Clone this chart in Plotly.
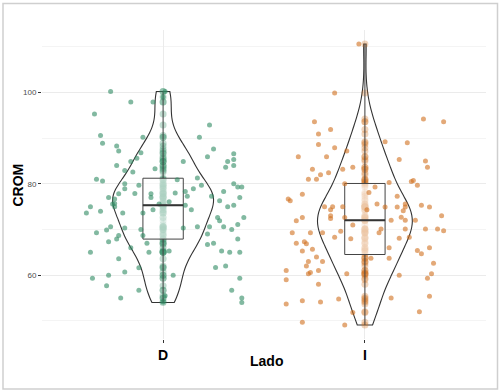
import numpy as np
import plotly.graph_objects as go

# ---------------- data ----------------
categories = ["D", "I"]

D_values = [100.2, 97.9, 97.9, 95.3, 90.6, 88.9, 88.3, 87.2, 90.2, 86.8,
            85.6, 84.9, 84.0, 82.9, 82.6, 83.3, 81.0, 80.6, 80.0, 78.9,
            79.7, 77.8, 77.8,
            92.9, 90.2, 87.6, 85.9, 84.9, 86.6, 85.3, 84.9, 84.0, 83.6,
            81.3, 80.9, 79.7, 78.9, 78.3, 78.0, 78.3, 80.0, 79.3, 79.3,
            77.0, 76.7, 75.7, 75.6, 75.0, 77.9, 77.0, 75.0, 73.6, 74.0,
            73.6, 73.6, 74.3, 69.3, 69.9, 70.6, 70.3, 70.0, 68.7, 68.7,
            67.9, 67.3, 67.0, 66.0, 65.0, 65.0, 63.6, 61.6, 60.7, 60.0,
            59.3, 57.7, 56.7, 55.0, 75.6,
            77.3, 77.3, 77.0, 76.3, 75.0, 75.3, 75.3, 74.3, 76.1, 72.6,
            71.9, 72.6, 71.1, 70.6, 70.6, 70.6, 70.0, 70.3, 69.0, 67.9,
            67.0, 66.7, 65.3, 65.0, 65.0, 65.3, 61.7, 62.0, 60.0, 59.3,
            56.7, 55.0, 54.0,
            100.2, 99.0, 54.2, 55.5]
D_jitter = [-0.26, -0.16, -0.05, -0.34, -0.31, -0.30, -0.23, -0.22, -0.10, -0.11,
            -0.13, -0.16, -0.23, -0.19, -0.15, -0.04, -0.33, -0.30, -0.19, -0.19,
            -0.12, -0.22, -0.06,
            0.23, 0.18, 0.25, 0.22, 0.10, 0.35, 0.35, 0.32, 0.35, 0.31,
            0.17, 0.07, 0.19, 0.15, 0.11, 0.06, 0.30, 0.35, 0.37, 0.39,
            -0.27, -0.24, -0.24, -0.25, -0.24, -0.14, -0.06, -0.36, -0.38, -0.31,
            -0.20, -0.10, -0.05, -0.33, -0.28, -0.26, -0.19, -0.11, -0.10, -0.22,
            -0.23, -0.27, -0.08, -0.16, -0.36, -0.07, -0.22, -0.12, -0.19, -0.27,
            -0.35, -0.28, -0.12, -0.21, -0.02,
            0.12, 0.24, 0.38, 0.28, 0.32, 0.35, 0.11, 0.14, 0.03, 0.27,
            0.28, 0.40, 0.37, 0.17, 0.23, 0.30, 0.34, 0.10, 0.22, 0.37,
            0.25, 0.22, 0.29, 0.33, 0.38, 0.03, 0.26, 0.31, 0.05, 0.38,
            0.34, 0.39, 0.39,
            0.01, 0.00, 0.00, 0.01]

I_values = [110.6, 99.9, 93.6, 91.9, 90.9, 88.6, 87.9, 85.9, 85.9, 87.2,
            83.2, 83.2, 83.6, 82.4, 82.0, 81.0, 81.0, 80.0,
            94.2, 93.6, 89.2, 89.0, 85.3, 85.0, 83.6, 80.3, 80.5, 80.7,
            79.7, 79.3,
            76.7, 76.3, 77.7, 75.0, 75.0, 74.3, 75.0, 73.0, 72.4, 71.9,
            72.6, 72.6, 71.0, 69.6, 68.3, 68.0, 69.3, 69.3, 69.3, 67.0,
            67.3, 66.9, 65.3, 65.7, 64.0, 63.0, 63.0, 62.0, 61.0, 60.6,
            60.3, 61.0, 60.3, 59.0, 58.0, 53.7, 54.4, 54.1, 54.8, 51.8,
            49.7, 49.1,
            77.3, 75.6, 74.9, 74.1, 74.9, 75.3, 74.9, 75.6, 74.9, 74.3,
            78.1, 72.7, 72.0, 72.0, 72.0, 73.0, 70.1, 70.1, 70.1, 69.7,
            70.1, 69.3, 68.1, 68.3, 66.0, 65.4, 64.7, 66.0, 63.7, 63.7,
            62.6, 60.3, 59.3, 60.0, 55.4, 55.0, 52.0]
I_jitter = [-0.03, -0.15, -0.25, -0.17, -0.23, -0.23, -0.15, -0.33, -0.19, -0.09,
            -0.26, -0.11, -0.06, -0.18, -0.22, -0.28, -0.24, -0.10,
            0.29, 0.39, 0.10, 0.21, 0.17, 0.30, 0.31, 0.12, 0.23, 0.24,
            0.26, 0.05,
            -0.38, -0.37, -0.31, -0.20, -0.16, -0.17, -0.11, -0.17, -0.17, -0.34,
            -0.31, -0.10, -0.06, -0.12, -0.15, -0.07, -0.36, -0.27, -0.21, -0.34,
            -0.30, -0.29, -0.31, -0.26, -0.24, -0.21, -0.28, -0.29, -0.39, -0.27,
            -0.28, -0.23, -0.09, -0.39, -0.23, -0.39, -0.31, -0.22, -0.13, -0.06,
            -0.31, -0.10,
            0.16, 0.20, 0.20, 0.19, 0.16, 0.28, 0.32, 0.06, 0.10, 0.01,
            0.02, 0.18, 0.20, 0.13, 0.25, 0.38, 0.20, 0.30, 0.36, 0.39,
            0.08, 0.07, 0.17, 0.22, 0.12, 0.26, 0.28, 0.32, 0.12, 0.03,
            0.34, 0.33, 0.31, 0.17, 0.32, 0.13, 0.27]

y_tick_values = [60, 80, 100]
y_minor_values = [50, 70, 90, 110]

# ---------------- styles ----------------
group_rgb = {"D": (46, 139, 98), "I": (208, 112, 30)}
violin_width = {"D": 0.50, "I": 0.47}
BOX_WIDTH = 0.2


def rgba(rgb, a):
    return "rgba(%d,%d,%d,%.2f)" % (rgb[0], rgb[1], rgb[2], a)


def nrd0(v):
    v = np.asarray(v, dtype=float)
    sd = v.std(ddof=1)
    q75, q25 = np.percentile(v, [75, 25])
    return 0.9 * min(sd, (q75 - q25) / 1.34) * len(v) ** -0.2


fig = go.Figure()
groups = [("D", D_values, D_jitter), ("I", I_values, I_jitter)]
for pos, (cat, vals, jit) in enumerate(groups, start=1):
    rgb = group_rgb[cat]
    n = len(vals)
    fig.add_trace(go.Violin(
        x=[pos] * n, y=vals, width=violin_width[cat], scalemode="width",
        spanmode="hard", bandwidth=nrd0(vals),
        line=dict(color="#333333", width=1.1), fillcolor="rgba(0,0,0,0)",
        points="all", pointpos=0, jitter=0,
        marker=dict(size=7, color=rgba(rgb, 0.3), line=dict(width=0)),
        box_visible=False, meanline_visible=False,
        showlegend=False, hoverinfo="skip", name=cat))
    fig.add_trace(go.Box(
        x=[pos] * n, y=vals, width=BOX_WIDTH, boxpoints=False, whiskerwidth=0,
        line=dict(color="#444444", width=1), fillcolor="rgba(255,255,255,0.6)",
        showlegend=False, hoverinfo="skip", name=cat))
    fig.add_trace(go.Scatter(
        x=[pos + o for o in jit], y=vals, mode="markers",
        marker=dict(size=5, color=rgba(rgb, 0.6), line=dict(width=0)),
        showlegend=False, hoverinfo="skip"))
    med = float(np.median(vals))
    fig.add_trace(go.Scatter(
        x=[pos - BOX_WIDTH / 2, pos + BOX_WIDTH / 2], y=[med, med], mode="lines",
        line=dict(color="#333333", width=2), showlegend=False, hoverinfo="skip"))

all_vals = D_values + I_values
lo, hi = min(all_vals), max(all_vals)
pad = 0.05 * (hi - lo)

L, R, T, B = 42, 14, 30, 52
W, H = 500, 391
pw, ph = W - L - R, H - T - B

fig.update_layout(
    width=W, height=H, margin=dict(l=L, r=R, t=T, b=B),
    paper_bgcolor="white", plot_bgcolor="white",
    violinmode="overlay", boxmode="overlay",
    font=dict(family="Liberation Sans, Arial, sans-serif"),
)
fig.update_xaxes(
    range=[0.4, len(categories) + 0.6], tickvals=[1, 2],
    ticktext=["<b>%s</b>" % c for c in categories],
    tickfont=dict(size=14, color="black"),
    ticks="outside", ticklen=3, tickcolor="#333333", tickwidth=1,
    showgrid=True, gridcolor="#ebebeb", gridwidth=1,
    zeroline=False, showline=False,
)
fig.update_yaxes(
    range=[lo - pad, hi + pad], tickvals=y_tick_values,
    tickfont=dict(size=8, color="#4d4d4d"),
    ticks="outside", ticklen=3, tickcolor="#333333", tickwidth=1,
    showgrid=True, gridcolor="#ebebeb", gridwidth=1,
    zeroline=False, showline=False,
    minor=dict(tickvals=y_minor_values, showgrid=True, gridcolor="#f4f4f4",
               gridwidth=1, ticks=""),
)

# axis titles
fig.add_annotation(text="<b>Lado</b>", xref="paper", yref="paper",
                   x=(266.5 - L) / pw, y=(T + ph - 361) / ph,
                   showarrow=False, font=dict(size=14, color="black"),
                   xanchor="center", yanchor="middle")
fig.add_annotation(text="<b>CROM</b>", xref="paper", yref="paper",
                   x=(17.5 - L) / pw, y=(T + ph - 185) / ph, textangle=-90,
                   showarrow=False, font=dict(size=14, color="black"),
                   xanchor="center", yanchor="middle")

# outer frame
fig.add_shape(type="rect", xref="paper", yref="paper",
              x0=(3 - L) / pw, x1=(497.5 - L) / pw,
              y0=(T + ph - 389) / ph, y1=(T + ph - 3.5) / ph,
              line=dict(color="#cfcfcf", width=1.5), fillcolor="rgba(0,0,0,0)",
              layer="below")

fig.write_html("out.html",
               config={"displayModeBar": False},
               post_script="document.body.style.margin='0';"
                           "document.body.style.overflow='hidden';")
